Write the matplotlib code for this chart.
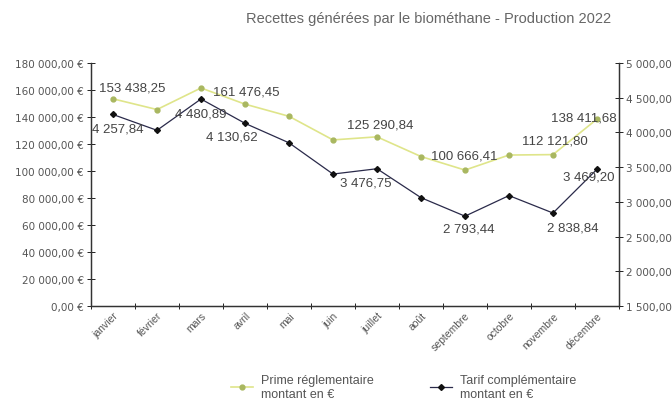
import matplotlib.pyplot as plt
from matplotlib.ticker import FuncFormatter, MultipleLocator

plt.rcParams['font.family'] = ['Liberation Sans', 'DejaVu Sans']

# Data
mois = ['janvier', 'février', 'mars', 'avril', 'mai', 'juin', 'juillet',
        'août', 'septembre', 'octobre', 'novembre', 'décembre']
prime = [153438.25, 145500, 161476.45, 149500, 140500, 123000, 125290.84,
         110700, 100666.41, 111800, 112121.80, 138411.68]
tarif = [4257.84, 4030, 4480.89, 4130.62, 3850, 3400, 3476.75,
         3060, 2793.44, 3090, 2838.84, 3469.20]

# which points get a value label, and where (offset in pixels)
prime_labels = {0: (19, 11), 2: (45, -4), 6: (3, 12), 8: (-1, 15), 10: (2, 14), 11: (-13, 2)}
tarif_labels = {0: (5, -14), 2: (0, -14), 3: (-13, -13), 6: (-11, -14), 8: (4, -12), 10: (20, -14), 11: (-8, -7)}

txt = '#555555'


def fr(v, dec=2):
    s = f'{v:,.{dec}f}'
    return s.replace(',', ' ').replace('.', ',')


fig = plt.figure(figsize=(6.72, 4.14), dpi=100)
ax = fig.add_axes([0.1354, 0.2585, 0.7857, 0.587])
ax2 = ax.twinx()

x = list(range(len(mois)))
l1, = ax.plot(x, prime, color='#dfe58a', lw=1.2, marker='o', ms=3.5,
              mfc='#a9b760', mec='#a9b760', label='Prime réglementaire\nmontant en €')
l2, = ax2.plot(x, tarif, color='#2a2a4a', lw=0.9, marker='D', ms=3,
               mfc='#111111', mec='#111111', label='Tarif complémentaire\nmontant en €')

for i, (dx, dy) in prime_labels.items():
    ax.annotate(fr(prime[i]), (x[i], prime[i]), xytext=(dx, dy), textcoords='offset pixels',
                ha='center', va='center', fontsize=9.5, color='#444444')
for i, (dx, dy) in tarif_labels.items():
    ax2.annotate(fr(tarif[i]), (x[i], tarif[i]), xytext=(dx, dy), textcoords='offset pixels',
                 ha='center', va='center', fontsize=9.5, color='#444444')

ax.set_xlim(-0.5, 11.5)
ax.set_ylim(0, 180000)
ax.yaxis.set_major_locator(MultipleLocator(20000))
ax.yaxis.set_major_formatter(FuncFormatter(lambda v, p: fr(v) + ' €'))
ax2.set_ylim(1500, 5000)
ax2.yaxis.set_major_locator(MultipleLocator(500))
ax2.yaxis.set_major_formatter(FuncFormatter(lambda v, p: fr(v)))

# category ticks between months, labels centred on each month
ax.set_xticks([i + 0.5 for i in range(-1, 12)], minor=False)
ax.set_xticklabels([])
ax.set_xticks(x, minor=True)
ax.set_xticklabels(mois, minor=True, rotation=45, ha='right', rotation_mode='anchor',
                   fontsize=7.5, color=txt)
ax.tick_params(axis='x', which='minor', length=0, pad=3)
ax.tick_params(axis='x', which='major', direction='inout', length=5, width=0.6)

ax.tick_params(axis='y', direction='inout', length=6, width=0.6, labelsize=7.5, labelcolor=txt, pad=2)
ax2.tick_params(axis='y', direction='inout', length=6, width=0.6, labelsize=7.5, labelcolor=txt, pad=2)
for lab in ax.get_yticklabels() + ax2.get_yticklabels():
    lab.set_family('DejaVu Sans')

for a in (ax, ax2):
    a.spines['top'].set_visible(False)
    for s in ('left', 'right', 'bottom'):
        a.spines[s].set_linewidth(0.9)
        a.spines[s].set_color('#333333')

fig.text(0.637, 0.955, 'Recettes générées par le biométhane - Production 2022',
         ha='center', va='center', fontsize=10.5, color='#666666')

fig.legend(handles=[l1, l2], loc='lower center', bbox_to_anchor=(0.6, 0.005), ncol=2,
           frameon=False, fontsize=9, columnspacing=4.5, handlelength=1.8,
           handletextpad=0.6, labelcolor=txt)

fig.savefig('out.png', dpi=100)
